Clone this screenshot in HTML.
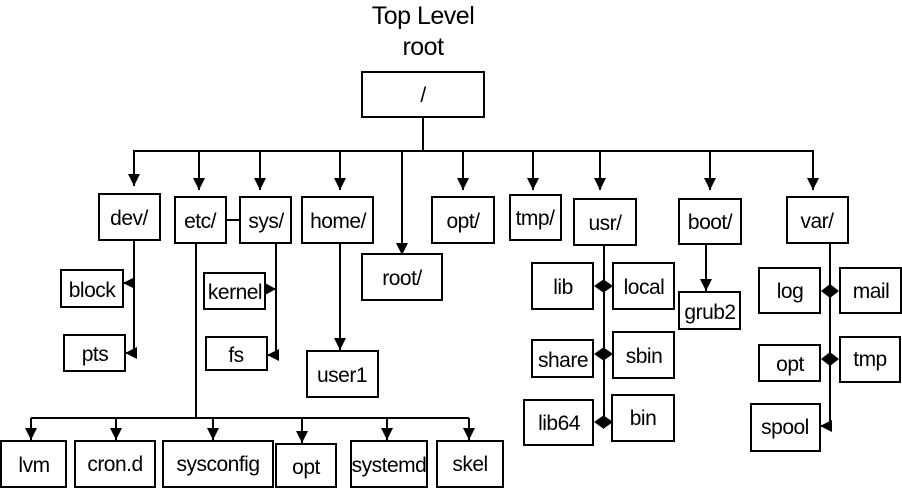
<!DOCTYPE html>
<html><head><meta charset="utf-8"><style>
html,body{margin:0;padding:0;background:#fff;}
svg{display:block;}
text{font-family:"Liberation Sans",Arial,sans-serif;font-size:21px;fill:#000;text-anchor:middle;letter-spacing:-0.5px;}
rect{fill:#fff;stroke:#000;stroke-width:2;}
line{stroke:#000;stroke-width:2;}
polygon{fill:#000;}
</style></head><body>
<svg width="902" height="488" viewBox="0 0 902 488" xmlns="http://www.w3.org/2000/svg">
<defs>
<marker id="a" markerWidth="12" markerHeight="12" refX="12" refY="6" orient="auto" markerUnits="userSpaceOnUse">
<polygon points="0,0 12,6 0,12"/>
</marker>
</defs>
<text x="423" y="24" style="font-size:25px">Top Level</text>
<text x="423" y="55" style="font-size:25px">root</text>
<rect x="362" y="72" width="122" height="45"/>
<text x="423" y="102">/</text>
<line x1="423" y1="117" x2="423" y2="151"/>
<line x1="133" y1="151" x2="814" y2="151"/>
<g marker-end="url(#a)">
<line x1="134" y1="151" x2="134" y2="186"/>
<line x1="199" y1="151" x2="199" y2="190"/>
<line x1="260" y1="151" x2="260" y2="190"/>
<line x1="340" y1="151" x2="340" y2="190"/>
<line x1="402" y1="151" x2="402" y2="255"/>
<line x1="463" y1="151" x2="463" y2="190"/>
<line x1="533" y1="151" x2="533" y2="190"/>
<line x1="600" y1="151" x2="600" y2="190"/>
<line x1="710" y1="151" x2="710" y2="190"/>
<line x1="813" y1="151" x2="813" y2="190"/>
</g>
<rect x="99" y="194" width="61" height="46"/><text x="129" y="225">dev/</text>
<rect x="175" y="197" width="51" height="46"/><text x="200" y="228">etc/</text>
<rect x="240" y="197" width="51" height="46"/><text x="266" y="228">sys/</text>
<line x1="226" y1="220" x2="240" y2="220"/>
<rect x="302" y="197" width="71" height="46"/><text x="338" y="228">home/</text>
<rect x="362" y="254" width="80" height="46"/><text x="402" y="285">root/</text>
<rect x="432" y="197" width="62" height="46"/><text x="463" y="228">opt/</text>
<rect x="510" y="195" width="51" height="45"/><text x="535" y="225">tmp/</text>
<rect x="574" y="199" width="62" height="46"/><text x="605" y="230">usr/</text>
<rect x="679" y="199" width="62" height="45"/><text x="710" y="229">boot/</text>
<rect x="787" y="197" width="61" height="46"/><text x="817" y="228">var/</text>
<line x1="134" y1="240" x2="134" y2="353"/>
<g marker-end="url(#a)">
<line x1="134" y1="283" x2="123" y2="283"/>
<line x1="134" y1="353" x2="125" y2="353"/>
<line x1="276" y1="355" x2="267" y2="355"/>
<line x1="340" y1="243" x2="340" y2="350"/>
<line x1="706" y1="244" x2="706" y2="291"/>
<line x1="831" y1="426" x2="820" y2="426"/>
</g>
<rect x="61" y="270" width="62" height="37"/><text x="92" y="297">block</text>
<rect x="64" y="335" width="61" height="36"/><text x="95" y="361">pts</text>
<line x1="276" y1="243" x2="276" y2="355"/>
<line x1="266" y1="289" x2="276" y2="289"/>
<polygon points="265,283 276,289 265,295"/>
<rect x="204" y="273" width="61" height="36"/><text x="235" y="299">kernel</text>
<rect x="206" y="337" width="61" height="33"/><text x="236" y="362">fs</text>
<rect x="307" y="351" width="71" height="46"/><text x="342" y="382">user1</text>
<line x1="196" y1="243" x2="196" y2="418"/>
<line x1="31" y1="418" x2="469" y2="418"/>
<g marker-end="url(#a)">
<line x1="31" y1="418" x2="31" y2="440"/>
<line x1="116" y1="418" x2="116" y2="440"/>
<line x1="213" y1="418" x2="213" y2="440"/>
<line x1="302" y1="418" x2="302" y2="443"/>
<line x1="387" y1="418" x2="387" y2="440"/>
<line x1="469" y1="418" x2="469" y2="440"/>
</g>
<rect x="1" y="441" width="65" height="46"/><text x="34" y="472">lvm</text>
<rect x="75" y="441" width="80" height="46"/><text x="115" y="471">cron.d</text>
<rect x="163" y="441" width="110" height="46"/><text x="218" y="471">sysconfig</text>
<rect x="276" y="444" width="60" height="43"/><text x="306" y="474">opt</text>
<rect x="351" y="441" width="76" height="46"/><text x="389" y="472">systemd</text>
<rect x="437" y="441" width="66" height="46"/><text x="470" y="471">skel</text>
<line x1="604" y1="245" x2="604" y2="425"/>
<rect x="532" y="263" width="61" height="46"/><text x="563" y="294">lib</text>
<rect x="613" y="263" width="61" height="46"/><text x="644" y="294">local</text>
<rect x="532" y="340" width="61" height="37"/><text x="563" y="367">share</text>
<rect x="613" y="332" width="61" height="46"/><text x="644" y="363">sbin</text>
<rect x="524" y="400" width="69" height="45"/><text x="559" y="430">lib64</text>
<rect x="612" y="395" width="62" height="46"/><text x="643" y="425">bin</text>
<polygon points="594,286 604,279 604,293"/><polygon points="613,286 603,279 603,293"/>
<polygon points="594,354 604,347 604,361"/><polygon points="613,354 603,347 603,361"/>
<polygon points="594,422 604,415 604,429"/><polygon points="613,422 603,415 603,429"/>
<rect x="679" y="292" width="61" height="37"/><text x="710" y="319">grub2</text>
<line x1="830" y1="243" x2="830" y2="426"/>
<rect x="759" y="268" width="61" height="45"/><text x="790" y="298">log</text>
<rect x="840" y="268" width="61" height="45"/><text x="871" y="298">mail</text>
<rect x="759" y="345" width="61" height="36"/><text x="790" y="371">opt</text>
<rect x="840" y="337" width="60" height="45"/><text x="870" y="366">tmp</text>
<rect x="751" y="404" width="69" height="47"/><text x="785" y="434">spool</text>
<polygon points="821,291 830,284 830,298"/><polygon points="839,291 830,284 830,298"/>
<polygon points="821,359 830,352 830,366"/><polygon points="839,359 830,352 830,366"/>
</svg>
</body></html>
